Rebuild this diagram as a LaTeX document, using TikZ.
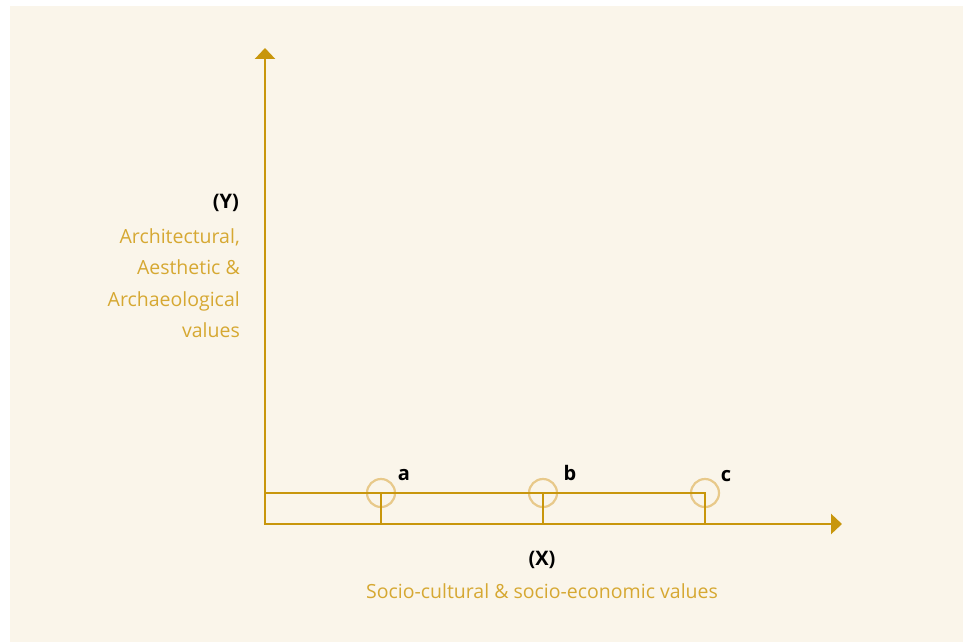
\documentclass[tikz,border=0pt]{standalone}
\usepackage{fontspec}
\setmainfont{Open Sans}
\usetikzlibrary{arrows.meta}
\definecolor{paper}{HTML}{FAF5EA}
\definecolor{axisgold}{HTML}{C8960C}
\definecolor{textgold}{HTML}{D6A832}
\definecolor{ringgold}{HTML}{E8C98A}

\begin{document}
\begin{tikzpicture}[x=1pt,y=-1pt,
	axis/.style={draw=axisgold, line width=2.5pt, -{Triangle[length=11pt,width=20pt]}},
	rail/.style={draw=axisgold, line width=2.5pt},
	ring/.style={draw=ringgold, line width=2.2pt, circle, minimum size=28pt, inner sep=0pt},
	lbl/.style={font=\fontsize{20}{20}\selectfont\bfseries, text=black},
	val/.style={font=\fontsize{19.5}{31.5}\selectfont, text=textgold}
	]
	\useasboundingbox (0,0) rectangle (963,642);
	\fill[white] (0,0) rectangle (963,642);
	\fill[paper] (10,6) rectangle (963,642);

	\coordinate (O) at (265,524);
	\coordinate (Ytip) at (265,48);
	\coordinate (Xtip) at (842,524);
	\coordinate (L) at (265,493);

	\node[ring] (ra) at (381,493) {};
	\node[ring] (rb) at (543,493) {};
	\node[ring] (rc) at (705,493) {};
	\coordinate (fa) at (381,524);
	\coordinate (fb) at (543,524);
	\coordinate (fc) at (705,524);

	\draw[rail] (L) -- (rc.center) -- (fc);
	\draw[rail] (ra.center) -- (fa);
	\draw[rail] (rb.center) -- (fb);
	\draw[axis] (O) -- (Ytip);
	\draw[axis] ([xshift=-1.25pt]O) -- (Xtip);

	\node[lbl] (a) at (404,475) {a};
	\node[lbl] (b) at (570,473) {b};
	\node[lbl] (c) at (726,476) {c};

	\node[lbl, anchor=east, inner sep=0pt] (Y) at (239,203) {(Y)};
	\node[val, anchor=north east, align=right, inner sep=0pt] (Yt) at (240,228)
		{Architectural,\\Aesthetic \&\\Archaeological\\values};
	\node[lbl] (X) at (542,560) {(X)};
	\node[val] (Xt) at (542,591) {Socio-cultural \& socio-economic values};
\end{tikzpicture}
\end{document}
